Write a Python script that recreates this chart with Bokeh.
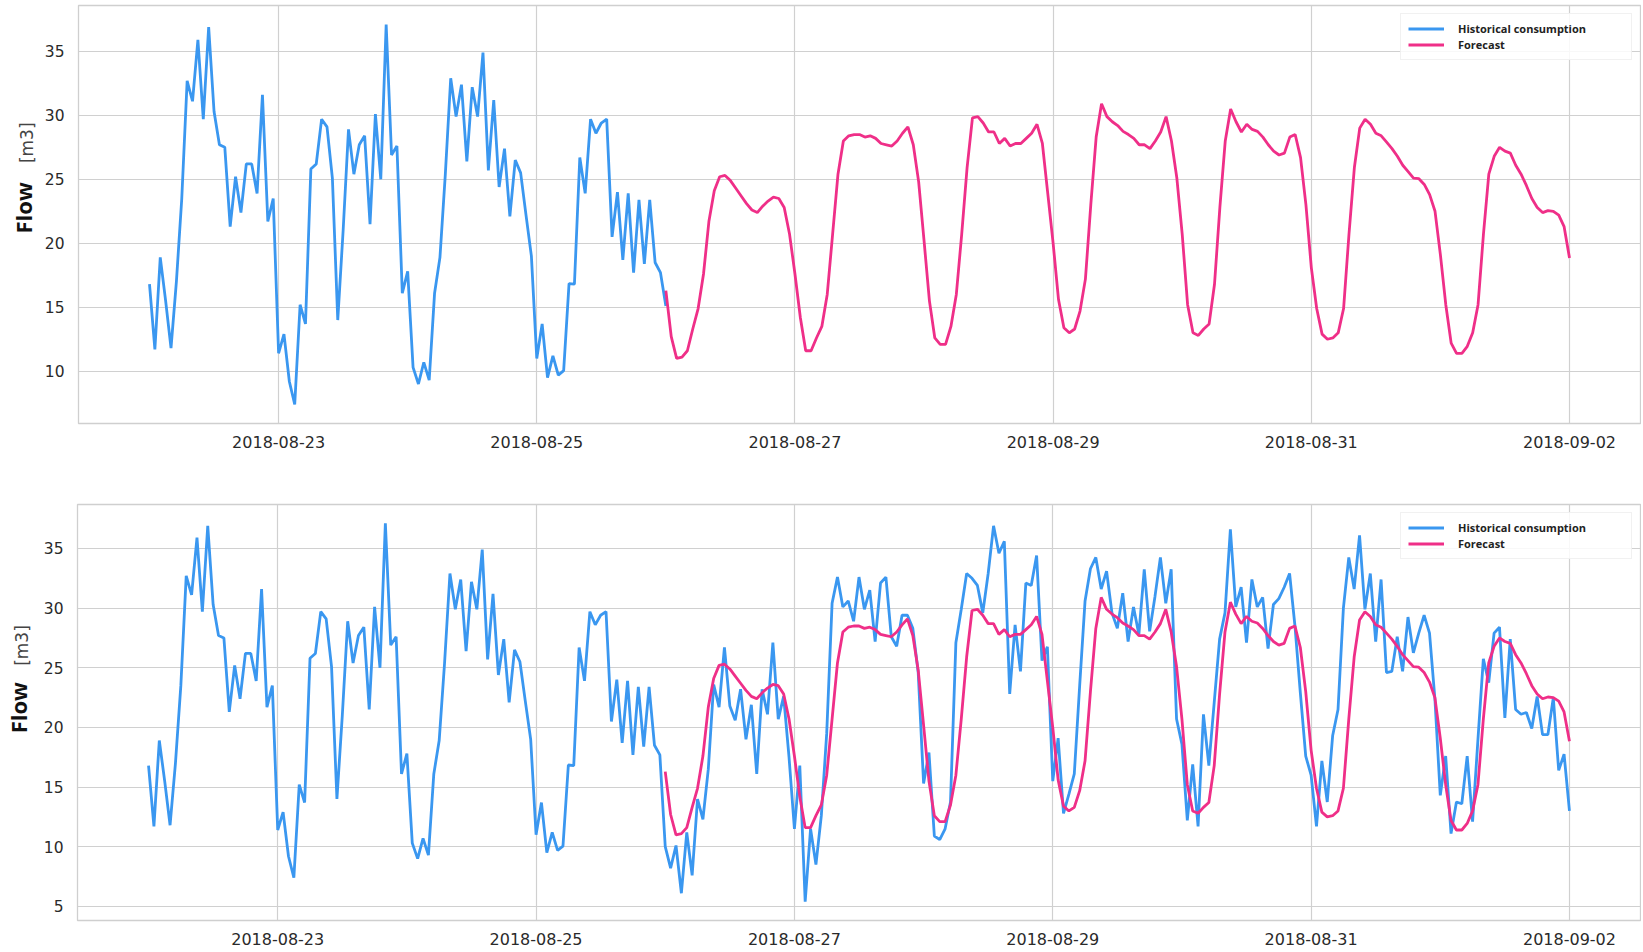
import math
import pandas as pd
from bokeh.plotting import figure
from bokeh.layouts import column, row
from bokeh.models import (FixedTicker, DatetimeTickFormatter, Range1d, Label,
                          Legend, LegendItem)
from bokeh.embed import file_html
from bokeh.resources import INLINE

# ---------------- data ----------------
hist_start = "2018-08-22 00:00"
forecast_start = "2018-08-26 00:00"

historical = [
    16.8, 11.7, 18.9, 15.5, 11.8, 17.0, 23.5, 32.7, 31.1, 35.9, 29.7, 36.9,
    30.3, 27.7, 27.5, 21.3, 25.2, 22.4, 26.2, 26.2, 23.9, 31.6, 21.7, 23.5,
    11.4, 12.9, 9.2, 7.4, 15.2, 13.7, 25.8, 26.2, 29.7, 29.1, 25.1, 14.0,
    21.0, 28.9, 25.4, 27.7, 28.4, 21.5, 30.1, 25.0, 37.1, 26.9, 27.6, 16.1,
    17.8, 10.3, 9.0, 10.7, 9.3, 16.1, 18.9, 25.4, 32.9, 29.9, 32.4, 26.4,
    32.2, 29.9, 34.9, 25.7, 31.2, 24.4, 27.4, 22.1, 26.5, 25.5, 22.2, 19.0,
    11.0, 13.7, 9.5, 11.2, 9.7, 10.05, 16.85, 16.8, 26.7, 23.9, 29.7, 28.6,
    29.4, 29.7, 20.5, 24.0, 18.7, 23.9, 17.7, 23.4, 18.4, 23.4, 18.5, 17.7,
    10.0, 8.2, 10.1, 6.1, 11.2, 7.6, 14.0, 12.3, 16.5, 23.6, 21.7, 26.7,
    21.8, 20.6, 23.2, 19.0, 21.9, 16.1, 23.2, 21.1, 27.1, 20.7, 22.6, 17.5,
    11.5, 16.8, 5.4, 11.5, 8.5, 12.6, 19.5, 30.4, 32.6, 30.1, 30.6, 28.9,
    32.6, 29.9, 31.5, 27.2, 32.1, 32.6, 27.6, 26.8, 29.4, 29.4, 28.3, 24.6,
    15.3, 17.9, 10.9, 10.6, 11.5, 13.75, 27.1, 29.9, 32.9, 32.5, 31.9, 29.6,
    32.9, 36.9, 34.6, 35.6, 22.8, 28.6, 24.7, 32.1, 31.9, 34.4, 25.6, 26.75,
    15.5, 19.1, 12.8, 14.4, 16.1, 23.5, 30.6, 33.3, 34.25, 31.6, 33.1, 29.6,
    28.3, 31.25, 27.2, 30.1, 27.8, 33.25, 28.05, 31.0, 34.25, 30.4, 33.25, 20.7,
    18.6, 12.2, 16.9, 11.7, 21.1, 16.8, 22.1, 27.4, 29.6, 36.6, 30.1, 31.75,
    27.1, 32.4, 30.1, 30.9, 26.6, 30.3, 30.8, 31.75, 32.9, 28.5, 22.9, 17.6,
    16.0, 11.7, 17.2, 13.75, 19.3, 21.5, 30.0, 34.25, 31.6, 36.1, 29.9, 32.9,
    27.2, 32.4, 24.6, 24.7, 27.6, 24.7, 29.25, 26.25, 27.9, 29.4, 27.9, 22.4,
    14.3, 17.6, 11.1, 13.75, 13.6, 17.6, 12.1, 19.0, 25.75, 23.75, 27.9, 28.4,
    20.8, 27.4, 21.5, 21.1, 21.25, 19.9, 22.6, 19.4, 19.4, 22.5, 16.4, 17.75,
    13.0,
]
# the upper panel shows history up to the forecast start
upper_hist_count = 96
upper_hist_last = 15.1

forecast = [
    16.3, 12.7, 11.0, 11.1, 11.6, 13.3, 14.9, 17.6, 21.7, 24.1, 25.2, 25.3,
    24.9, 24.3, 23.7, 23.1, 22.6, 22.4, 22.9, 23.3, 23.6, 23.5, 22.8, 20.7,
    17.6, 14.2, 11.6, 11.6, 12.6, 13.5, 16.0, 20.7, 25.4, 28.0, 28.4, 28.5,
    28.5, 28.3, 28.4, 28.2, 27.8, 27.7, 27.6, 28.0, 28.6, 29.1, 27.7, 24.8,
    20.2, 15.5, 12.6, 12.1, 12.1, 13.5, 16.0, 20.7, 25.9, 29.8, 29.9, 29.4,
    28.7, 28.7, 27.8, 28.2, 27.6, 27.8, 27.8, 28.2, 28.6, 29.3, 27.8, 23.9,
    20.0, 15.6, 13.4, 13.0, 13.3, 14.7, 17.2, 23.0, 28.3, 30.9, 29.9, 29.5,
    29.2, 28.75, 28.5, 28.2, 27.7, 27.7, 27.4, 28.0, 28.7, 29.9, 28.0, 25.1,
    20.7, 15.2, 13.0, 12.8, 13.3, 13.7, 16.8, 22.8, 28.0, 30.5, 29.5, 28.7,
    29.3, 28.9, 28.75, 28.3, 27.7, 27.2, 26.9, 27.05, 28.3, 28.5, 26.7, 23.0,
    18.1, 14.9, 12.9, 12.5, 12.6, 13.0, 14.9, 20.7, 25.9, 29.0, 29.7, 29.3,
    28.6, 28.4, 27.9, 27.4, 26.8, 26.1, 25.6, 25.1, 25.05, 24.6, 23.8, 22.5,
    19.1, 15.2, 12.2, 11.4, 11.4, 11.95, 13.0, 15.2, 20.7, 25.4, 26.8, 27.5,
    27.2, 27.05, 26.1, 25.4, 24.5, 23.5, 22.8, 22.4, 22.55, 22.5, 22.2, 21.3,
    18.85,
]

tick_dates = ["2018-08-23", "2018-08-25", "2018-08-27", "2018-08-29",
              "2018-08-31", "2018-09-02"]
series_labels = ["Historical consumption", "Forecast"]
y_label_main = "Flow"
y_label_unit = "[m3]"

# ---------------- styling ----------------
BLUE = "#3a97f0"
PINK = "#ef2f88"
GRID = "#d0d0d0"
TXT = "#2a2a2a"
LABEL_W = 40
MAIN_W = 1601

hist_t = pd.date_range(hist_start, periods=len(historical), freq="h")
fc_t = pd.date_range(forecast_start, periods=len(forecast), freq="h")

upper_vals = historical[:upper_hist_count] + [upper_hist_last]
upper_t = hist_t[:upper_hist_count + 1]

# x range like matplotlib autoscale (5% margins)
t0 = hist_t[0].value / 1e6
t1 = max(hist_t[-1].value, fc_t[-1].value) / 1e6
xm = 0.05 * (t1 - t0)
tick_ms = [pd.Timestamp(d).value / 1e6 for d in tick_dates]


def yrange(*arrs):
    lo = min(min(a) for a in arrs)
    hi = max(max(a) for a in arrs)
    m = 0.05 * (hi - lo)
    return lo - m, hi + m


def make_fig(height, border_top, border_bottom, border_left, hx, hy, yr):
    p = figure(width=MAIN_W, height=height, x_axis_type="datetime",
               output_backend="svg", toolbar_location=None,
               x_range=Range1d(t0 - xm, t1 + xm), y_range=Range1d(*yr),
               min_border_top=border_top, min_border_bottom=border_bottom,
               min_border_left=border_left, min_border_right=1)
    p.background_fill_color = "white"
    p.outline_line_color = "#cfcfcf"
    p.outline_line_width = 1.3
    for g in (p.xgrid, p.ygrid):
        g.grid_line_color = GRID
        g.grid_line_width = 1.2
    p.xaxis.ticker = FixedTicker(ticks=tick_ms)
    p.xaxis.formatter = DatetimeTickFormatter(
        days="%Y-%m-%d", months="%Y-%m-%d", hours="%Y-%m-%d",
        years="%Y-%m-%d", minutes="%Y-%m-%d")
    p.yaxis.ticker = FixedTicker(ticks=[5, 10, 15, 20, 25, 30, 35])
    for ax in (p.xaxis[0], p.yaxis[0]):
        ax.axis_line_color = None
        ax.major_tick_line_color = None
        ax.minor_tick_line_color = None
        ax.major_tick_out = 0
        ax.major_tick_in = 0
        ax.minor_tick_out = 0
        ax.minor_tick_in = 0
        ax.major_label_text_color = TXT
        ax.major_label_text_font = "DejaVu Sans"
    p.xaxis.major_label_text_font_size = "16px"
    p.yaxis.major_label_text_font_size = "15.5px"
    p.xaxis.major_label_standoff = 12
    p.yaxis.major_label_standoff = 14

    r1 = p.line(hx, hy, line_color=BLUE, line_width=2.8)
    r2 = p.line(list(fc_t), forecast, line_color=PINK, line_width=2.8)

    legend = Legend(items=[LegendItem(label=series_labels[0], renderers=[r1]),
                           LegendItem(label=series_labels[1], renderers=[r2])],
                    location="top_right")
    legend.label_text_font = "Open Sans"
    legend.label_text_font_style = "bold"
    legend.label_text_font_size = "11px"
    legend.label_text_color = "#222222"
    legend.glyph_width = 36
    legend.glyph_height = 15
    legend.label_height = 15
    legend.label_width = 166
    legend.label_standoff = 14
    legend.spacing = 1
    legend.padding = 7
    legend.margin = 8
    legend.border_line_color = "#e4e4e4"
    legend.background_fill_alpha = 0.85
    p.add_layout(legend)
    return p


def label_fig(height, flow_xy, unit_xy):
    f = figure(width=LABEL_W, height=height, output_backend="svg",
               toolbar_location=None, x_range=Range1d(0, LABEL_W),
               y_range=Range1d(height, 0),
               min_border=0, min_border_left=0, min_border_right=0,
               min_border_top=0, min_border_bottom=0)
    f.axis.visible = False
    f.grid.visible = False
    f.outline_line_color = None
    f.add_layout(Label(x=flow_xy[0], y=flow_xy[1], text=y_label_main,
                       angle=math.pi / 2, text_align="center",
                       text_baseline="middle", text_font="Open Sans",
                       text_font_style="bold", text_font_size="22px",
                       text_color="#111111"))
    f.add_layout(Label(x=unit_xy[0], y=unit_xy[1], text=y_label_unit,
                       angle=math.pi / 2, text_align="center",
                       text_baseline="middle", text_font="DejaVu Sans",
                       text_font_size="17px", text_color="#444444"))
    return f


TOP_H = 475
BOT_H = 475

top = make_fig(TOP_H, 5, 52, 38, list(upper_t), upper_vals,
               yrange(upper_vals, forecast))
bottom = make_fig(BOT_H, 29, 30, 35, list(hist_t), historical,
                  yrange(historical, forecast))

top_lab = label_fig(TOP_H, (22, 230), (26, 156))
bot_lab = label_fig(BOT_H, (17, 707 - TOP_H), (21, 636 - TOP_H))

layout = column(row(top_lab, top, spacing=0), row(bot_lab, bottom, spacing=0),
                spacing=0)
open("out.html", "w").write(file_html(layout, INLINE))
